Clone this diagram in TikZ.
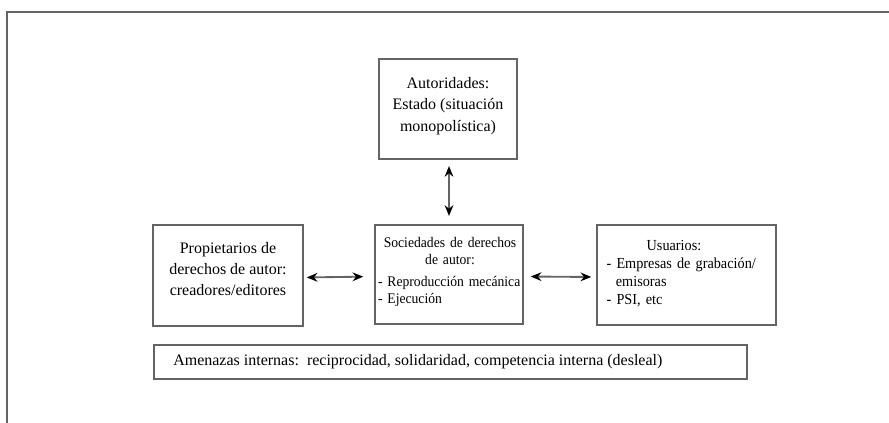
\documentclass[tikz,border=0pt]{standalone}
\usepackage{fontspec}
\setmainfont{Liberation Serif}
\newfontfamily\narrowserif[FakeStretch=0.93]{Liberation Serif}
\usetikzlibrary{arrows.meta}
\definecolor{linegray}{RGB}{100,100,100}
\begin{document}
\begin{tikzpicture}[x=0.75pt,y=-0.75pt,
  frameline/.style={draw=linegray,line width=1.1pt},
  box/.style={draw=linegray,line width=1.6pt,inner sep=0pt,fill=white},
  txt/.style={inner sep=0pt,font=\fontsize{12}{16}\selectfont,align=center},
  biarrow/.style={draw=linegray,line width=1.4pt,
    {Stealth[black,length=8pt,width=6.5pt]}-{Stealth[black,length=8pt,width=6.5pt]}}]
\useasboundingbox (0,0) rectangle (889,423);

% open outer frame: top and left edges only
\draw[frameline] (7,423) -- (7,12) -- (889,12);

% boxes
\node[box,minimum width=103.5pt,minimum height=75pt] (auth) at (448,109) {};
\node[box,minimum width=112.5pt,minimum height=75.75pt] (prop) at (228,275.5) {};
\node[box,minimum width=111pt,minimum height=74.25pt] (soc) at (449,274.5) {};
\node[box,minimum width=134.25pt,minimum height=75pt] (usu) at (686.5,275) {};
\node[box,minimum width=444.75pt,minimum height=25.5pt] (amen) at (450.5,362) {};

% box texts
\node[txt] (authT) at (448,106) {Autoridades:\\Estado (situación\\monopolística)};
\node[txt] (propT) at (228,269) {Propietarios de\\derechos de autor:\\creadores/editores};
\node[txt,font=\narrowserif\fontsize{11}{13}\selectfont,text width=108pt,align=left] (socT) at (450,272)
  {{\centering Sociedades de derechos\\de autor:\par}\vspace{3pt}- Reproducción mecánica\\- Ejecución};
\node[txt,font=\narrowserif\fontsize{11.5}{13.5}\selectfont,text width=122pt,align=left] (usuT) at (688,274)
  {\hspace*{30pt}Usuarios:\\- Empresas de grabación/\\\hspace*{0.6em}emisoras\\- PSI, etc};
\node[txt,anchor=west] (amenT) at (173,362)
  {Amenazas internas:\ \ reciprocidad, solidaridad, competencia interna (desleal)};

% connectors
\draw[biarrow,shorten <=2pt,shorten >=8pt] ([yshift=-1.5pt]prop.east) -- ([yshift=-1.5pt]soc.west);
\draw[biarrow,shorten <=5pt,shorten >=3.5pt] ([yshift=-1.5pt]soc.east) -- ([yshift=-1.5pt]usu.west);
\draw[biarrow,shorten <=4.5pt,shorten >=6pt] ([xshift=0.75pt]auth.south) -- (soc.north);
\end{tikzpicture}
\end{document}
